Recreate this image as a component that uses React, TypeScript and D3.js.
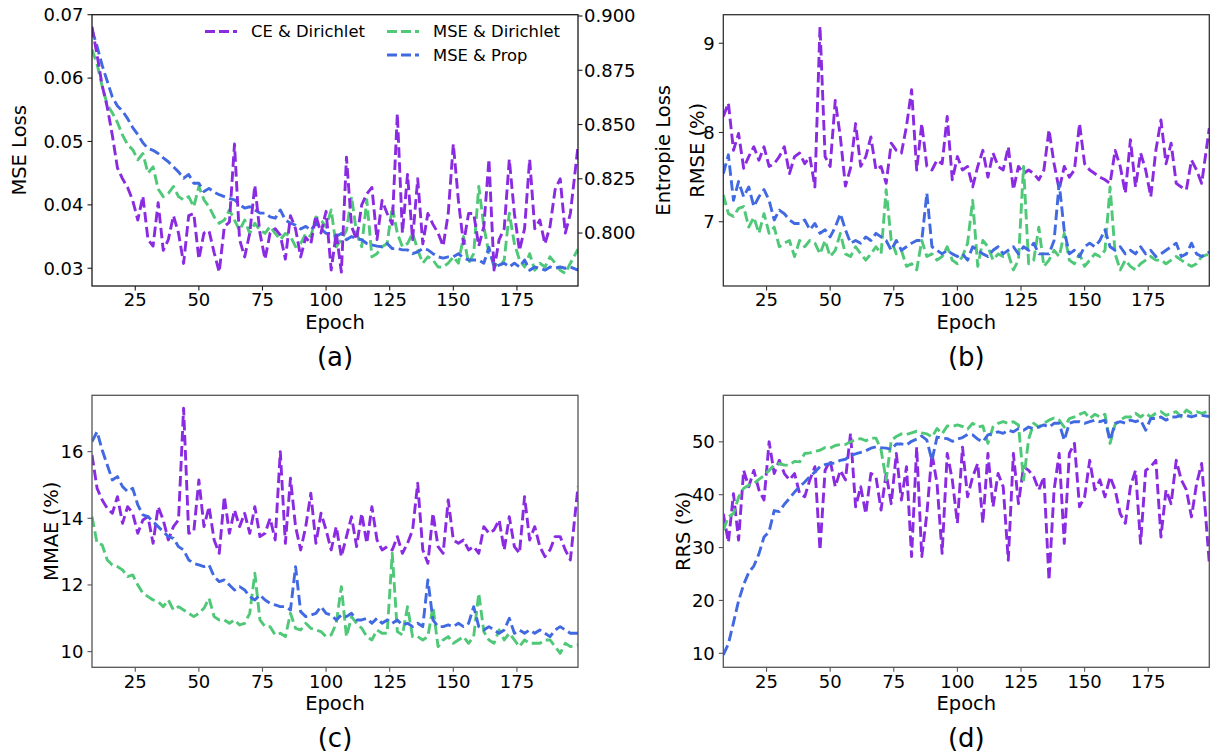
import React from "react";
import * as d3 from "d3";

// ---------- data ----------
const epochs: number[] = d3.range(8, 198, 2).concat([199]);
const xTicks = [25, 50, 75, 100, 125, 150, 175];
const seriesNames = ["CE & Dirichlet", "MSE & Dirichlet", "MSE & Prop"];
const seriesColors = ["#8a2be2", "#4fc878", "#4169e1"];

// (a) loss: CE & Dirichlet on the right (Entropie Loss) axis
const lossCeDir = [
  0.895, 0.882, 0.868, 0.858, 0.845, 0.830, 0.825, 0.821, 0.815, 0.806,
  0.817, 0.797, 0.794, 0.814, 0.792, 0.797, 0.808, 0.800, 0.786, 0.808,
  0.809, 0.788, 0.800, 0.801, 0.791, 0.782, 0.803, 0.805, 0.841, 0.797,
  0.789, 0.800, 0.822, 0.800, 0.788, 0.800, 0.802, 0.799, 0.788, 0.808,
  0.802, 0.789, 0.798, 0.795, 0.808, 0.800, 0.810, 0.783, 0.800, 0.782,
  0.835, 0.803, 0.797, 0.813, 0.818, 0.821, 0.797, 0.815, 0.809, 0.804,
  0.855, 0.800, 0.827, 0.797, 0.825, 0.795, 0.809, 0.804, 0.800, 0.794,
  0.809, 0.841, 0.815, 0.795, 0.809, 0.809, 0.794, 0.803, 0.834, 0.783,
  0.797, 0.802, 0.834, 0.809, 0.792, 0.802, 0.834, 0.802, 0.806, 0.795,
  0.803, 0.820, 0.825, 0.800, 0.809, 0.840,
];
const lossMseDir = [
  0.0645, 0.0622, 0.0587, 0.0558, 0.0545, 0.0530, 0.0510, 0.0495, 0.0487, 0.0471,
  0.0481, 0.0450, 0.0460, 0.0425, 0.0413, 0.0418, 0.0429, 0.0413, 0.0408, 0.0413,
  0.0397, 0.0429, 0.0408, 0.0397, 0.0381, 0.0371, 0.0376, 0.0392, 0.0376, 0.0360,
  0.0376, 0.0355, 0.0371, 0.0360, 0.0355, 0.0366, 0.0355, 0.0345, 0.0355, 0.0350,
  0.0334, 0.0339, 0.0355, 0.0350, 0.0381, 0.0376, 0.0365, 0.0392, 0.0334, 0.0345,
  0.0360, 0.0413, 0.0355, 0.0334, 0.0408, 0.0318, 0.0323, 0.0334, 0.0339, 0.0397,
  0.0355, 0.0334, 0.0339, 0.0355, 0.0329, 0.0308, 0.0318, 0.0313, 0.0302, 0.0302,
  0.0308, 0.0318, 0.0308, 0.0350, 0.0308, 0.0323, 0.0429, 0.0366, 0.0323, 0.0308,
  0.0302, 0.0313, 0.0387, 0.0339, 0.0313, 0.0302, 0.0323, 0.0297, 0.0308, 0.0302,
  0.0318, 0.0308, 0.0297, 0.0292, 0.0308, 0.0330,
];
const lossMseProp = [
  0.0676, 0.0650, 0.0620, 0.0595, 0.0570, 0.0556, 0.0548, 0.0536, 0.0522, 0.0511,
  0.0498, 0.0489, 0.0486, 0.0481, 0.0474, 0.0468, 0.0460, 0.0452, 0.0442, 0.0448,
  0.0434, 0.0434, 0.0421, 0.0426, 0.0420, 0.0416, 0.0413, 0.0410, 0.0408, 0.0400,
  0.0395, 0.0397, 0.0392, 0.0387, 0.0387, 0.0381, 0.0379, 0.0392, 0.0376, 0.0371,
  0.0368, 0.0362, 0.0366, 0.0360, 0.0371, 0.0362, 0.0355, 0.0355, 0.0350, 0.0355,
  0.0345, 0.0350, 0.0347, 0.0345, 0.0339, 0.0337, 0.0335, 0.0334, 0.0339, 0.0331,
  0.0331, 0.0329, 0.0329, 0.0323, 0.0326, 0.0331, 0.0329, 0.0323, 0.0318, 0.0316,
  0.0318, 0.0318, 0.0323, 0.0316, 0.0313, 0.0313, 0.0313, 0.0308, 0.0333, 0.0302,
  0.0305, 0.0308, 0.0302, 0.0308, 0.0302, 0.0313, 0.0297, 0.0302, 0.0300, 0.0297,
  0.0302, 0.0300, 0.0302, 0.0300, 0.0302, 0.0297,
];

// (b) RMSE (%)
const rmseCeDir = [
  8.18, 8.33, 7.80, 7.99, 7.60, 7.73, 7.84, 7.69, 7.84, 7.62,
  7.65, 7.73, 7.84, 7.54, 7.73, 7.77, 7.65, 7.73, 7.39, 9.19,
  7.73, 7.62, 8.36, 7.95, 7.40, 7.60, 8.10, 7.62, 7.73, 7.95,
  7.58, 7.62, 7.43, 7.88, 7.80, 7.77, 8.07, 8.48, 7.58, 8.10,
  7.62, 7.58, 7.69, 7.65, 8.18, 7.47, 7.73, 7.58, 7.62, 7.39,
  7.62, 7.80, 7.50, 7.77, 7.62, 7.58, 7.84, 7.36, 7.62, 7.54,
  7.58, 7.54, 7.47, 7.58, 8.03, 7.65, 7.36, 7.62, 7.50, 7.58,
  8.10, 7.65, 7.58, 7.54, 7.50, 7.47, 7.43, 7.80, 7.62, 7.32,
  7.92, 7.39, 7.77, 7.58, 7.28, 7.80, 8.14, 7.65, 7.88, 7.43,
  7.39, 7.36, 7.69, 7.58, 7.43, 8.05,
];
const rmseMseDir = [
  7.30, 7.09, 7.06, 7.15, 7.17, 6.94, 7.05, 6.87, 7.09, 6.87,
  6.94, 6.72, 6.76, 6.79, 6.61, 6.79, 6.72, 6.79, 6.76, 6.64,
  6.79, 6.61, 6.68, 6.87, 6.64, 6.61, 6.72, 6.64, 6.57, 6.64,
  6.72, 6.64, 7.36, 6.79, 6.64, 6.68, 6.50, 6.53, 6.46, 6.79,
  6.61, 6.64, 6.57, 6.61, 6.72, 6.57, 6.53, 6.61, 6.76, 7.24,
  6.50, 6.79, 6.72, 6.57, 6.64, 6.61, 6.64, 6.46, 6.57, 7.62,
  6.53, 6.57, 6.94, 6.50, 6.57, 6.68, 6.61, 6.87, 6.57, 6.53,
  6.64, 6.50, 6.57, 6.64, 6.61, 6.68, 7.39, 6.64, 6.46, 6.57,
  6.50, 6.46, 6.53, 6.57, 6.61, 6.57, 6.57, 6.53, 6.57, 6.61,
  6.57, 6.53, 6.50, 6.53, 6.61, 6.64,
];
const rmseMseProp = [
  7.54, 7.75, 7.24, 7.45, 7.28, 7.39, 7.17, 7.28, 7.36, 7.24,
  7.02, 7.13, 7.09, 7.02, 6.98, 6.98, 7.02, 6.91, 6.98, 6.87,
  6.91, 6.83, 6.94, 7.09, 6.91, 6.76, 6.79, 6.76, 6.83, 6.79,
  6.87, 6.83, 6.79, 6.68, 6.79, 6.68, 6.72, 6.76, 6.79, 6.79,
  7.32, 6.72, 6.68, 6.64, 6.68, 6.64, 6.61, 6.64, 6.57, 6.72,
  6.68, 6.64, 6.61, 6.68, 6.72, 6.64, 6.68, 6.72, 6.64, 6.72,
  6.68, 6.76, 6.64, 6.64, 6.64, 6.79, 7.43, 6.90, 6.64, 6.68,
  6.61, 6.72, 6.76, 6.72, 6.79, 6.91, 6.72, 6.68, 6.72, 6.64,
  6.68, 6.64, 6.72, 6.64, 6.68, 6.61, 6.64, 6.68, 6.72, 6.76,
  6.61, 6.64, 6.76, 6.64, 6.61, 6.66,
];

// (c) MMAE (%)
const mmaeCeDir = [
  15.9, 14.9, 14.55, 14.3, 14.15, 14.65, 13.85, 14.35, 14.15, 13.55,
  13.95, 14.05, 13.25, 14.35, 13.95, 13.35, 13.75, 13.95, 17.3, 13.55,
  13.6, 15.15, 13.75, 14.35, 13.35, 12.95, 14.65, 13.55, 14.25, 13.75,
  14.15, 13.55, 14.35, 13.45, 13.55, 14.0, 13.35, 16.0, 13.25, 15.2,
  13.75, 13.05, 13.75, 14.75, 13.25, 14.15, 13.65, 13.05, 13.75, 12.85,
  13.45, 14.05, 13.15, 14.15, 13.25, 14.35, 13.35, 13.05, 13.15, 13.05,
  13.45, 12.95, 13.25, 13.65, 15.05, 13.05, 12.65, 14.15, 13.15, 12.95,
  14.55, 13.35, 13.25, 13.35, 13.05, 13.15, 12.95, 13.75, 13.55, 13.65,
  13.95, 13.05, 14.05, 13.15, 12.95, 14.65, 13.35, 13.75, 13.15, 12.85,
  13.05, 13.45, 13.45, 13.05, 12.75, 14.95,
];
const mmaeMseDir = [
  14.05, 13.25, 13.2, 12.75, 12.6, 12.55, 12.45, 12.25, 12.3, 12.0,
  11.75, 11.65, 11.55, 11.5, 11.35, 11.55, 11.25, 11.35, 11.25, 11.15,
  11.05, 11.15, 11.3, 11.6, 11.05, 10.95, 10.95, 10.85, 10.95, 10.8,
  10.85, 11.15, 12.35, 10.95, 10.75, 10.75, 10.5, 10.55, 10.45, 11.15,
  10.7, 10.65, 10.85, 10.7, 10.65, 10.6, 10.45, 10.5, 10.85, 11.95,
  10.45, 11.05, 10.85, 10.7, 10.45, 10.35, 10.65, 10.55, 10.55, 12.95,
  10.6, 10.5, 11.35, 10.45, 10.45, 10.35, 10.45, 11.35, 10.15, 10.35,
  10.45, 10.25, 10.35, 10.45, 10.25, 10.45, 11.75, 10.6, 10.35, 10.25,
  10.65, 10.35, 10.55, 10.35, 10.15, 10.35, 10.25, 10.25, 10.25, 10.35,
  10.35, 10.15, 9.95, 10.25, 10.15, 10.2,
];
const mmaeMseProp = [
  16.3, 16.6, 16.05, 15.6, 15.15, 15.25, 14.95, 14.8, 14.9, 14.4,
  14.1, 14.05, 13.9, 13.75, 13.6, 13.45, 13.4, 13.15, 13.05, 12.75,
  12.65, 12.6, 12.55, 12.6, 12.25, 12.1, 12.15, 12.0, 11.85, 11.95,
  11.85, 11.65, 11.55, 11.7, 11.55, 11.45, 11.4, 11.35, 11.35, 11.25,
  12.55, 11.2, 11.05, 11.1, 11.15, 11.35, 11.15, 11.1, 10.95, 11.1,
  11.05, 11.15, 10.95, 10.95, 11.0, 10.85, 11.0, 10.85, 10.95, 10.85,
  10.95, 10.8, 10.85, 10.75, 10.85, 10.75, 12.15, 10.95, 10.75, 10.75,
  10.8, 10.75, 10.85, 10.75, 10.85, 11.35, 10.75, 10.65, 10.75, 10.65,
  10.55, 10.65, 11.0, 10.55, 10.65, 10.55, 10.65, 10.55, 10.65, 10.55,
  10.45, 10.65, 10.75, 10.65, 10.55, 10.55,
];

// (d) RRS (%)
const rrsCeDir = [
  36.4, 31.0, 40.2, 31.4, 44.6, 41.5, 44.6, 40.9, 39.0, 50.0,
  44.0, 46.5, 44.0, 42.8, 44.0, 40.2, 39.6, 42.8, 45.3, 29.5,
  44.6, 46.5, 41.5, 44.6, 42.8, 51.6, 37.7, 41.5, 36.4, 44.0,
  43.4, 37.1, 44.0, 38.3, 47.8, 39.0, 45.3, 28.3, 49.0, 28.3,
  36.4, 47.8, 42.1, 28.9, 47.8, 42.8, 34.6, 49.0, 39.6, 43.4,
  45.9, 34.6, 47.8, 37.7, 44.0, 41.5, 27.6, 47.8, 38.3, 45.3,
  44.6, 43.4, 40.9, 43.4, 23.8, 40.9, 47.8, 30.8, 47.8, 49.7,
  37.7, 39.6, 46.5, 40.9, 42.8, 39.6, 43.4, 40.9, 36.4, 34.6,
  41.5, 44.6, 30.8, 44.6, 45.3, 46.5, 32.0, 40.9, 38.3, 46.5,
  42.8, 40.9, 35.8, 42.1, 45.9, 27.0,
];
const rrsMseDir = [
  33.3, 35.8, 36.45, 39.5, 41.2, 41.8, 42.1, 42.9, 43.6, 44.6,
  45.6, 45.9, 45.6, 45.6, 46.3, 46.2, 47.8, 47.9, 48.2, 48.4,
  48.9, 48.8, 49.3, 49.5, 49.5, 50.0, 50.4, 50.6, 50.2, 50.7,
  50.7, 48.5, 42.75, 50.3, 51.0, 51.5, 51.4, 51.7, 52.0, 51.7,
  51.5, 50.9, 52.5, 51.5, 53.0, 52.9, 53.2, 52.9, 52.4, 53.5,
  52.8, 53.0, 49.7, 52.8, 53.5, 53.8, 53.5, 53.8, 53.2, 42.75,
  50.5, 53.5, 52.8, 53.5, 54.1, 54.5, 54.1, 52.8, 54.4, 54.7,
  55.2, 55.6, 54.4, 55.2, 54.7, 55.2, 49.7, 53.3, 54.1, 54.7,
  54.7, 55.4, 54.7, 55.4, 54.7, 55.4, 55.7, 55.0, 55.4, 55.7,
  54.7, 56.0, 55.4, 55.7, 55.4, 55.8,
];
const rrsMseProp = [
  9.7, 11.8, 15.8, 19.9, 23.0, 25.3, 26.5, 28.8, 32.0, 33.0,
  37.0, 36.8, 38.2, 39.3, 40.5, 41.5, 42.4, 43.4, 44.3, 45.3,
  45.7, 45.9, 46.0, 46.5, 46.7, 47.4, 47.7, 48.0, 48.3, 48.8,
  49.05, 48.9, 48.8, 48.6, 49.6, 49.6, 49.4, 50.1, 50.5, 51.1,
  50.3, 46.5, 50.9, 50.7, 50.6, 50.1, 50.5, 50.8, 51.4, 51.3,
  50.5, 50.0, 51.3, 51.6, 51.9, 51.6, 52.2, 51.9, 52.5, 52.2,
  52.8, 52.5, 52.8, 53.2, 52.8, 53.5, 53.5, 50.3, 53.5, 53.8,
  53.8, 53.5, 53.8, 54.1, 53.8, 54.1, 50.3, 53.5, 53.8, 53.5,
  54.1, 53.8, 54.1, 52.2, 54.4, 54.4, 54.7, 54.1, 54.7, 54.7,
  55.0, 55.0, 54.7, 55.0, 55.0, 54.8,
];

const lossTicksLeft = [0.03, 0.04, 0.05, 0.06, 0.07];
const lossTicksRight = [0.8, 0.825, 0.85, 0.875, 0.9];
const rmseTicks = [7, 8, 9];
const mmaeTicks = [10, 12, 14, 16];
const rrsTicks = [10, 20, 30, 40, 50];

// ---------- drawing ----------
const FONT = "DejaVu Sans, Verdana, sans-serif";
const TICK_FS = 18;
const LABEL_FS = 19.5;
const CAP_FS = 26;
const DASH = "10.5,4.5";
const LW = 2.9;

type Series = { values: number[]; color: string; right?: boolean };

type PanelProps = {
  id: string;
  left: number;
  top: number;
  right: number;
  bottom: number;
  yDomain: [number, number];
  yTicks: number[];
  yFmt: (v: number) => string;
  yLabel: string;
  yLabelX: number;
  y2Domain?: [number, number];
  y2Ticks?: number[];
  y2Fmt?: (v: number) => string;
  y2Label?: string;
  y2LabelX?: number;
  caption: string;
  series: Series[];
  frameColor: string;
};

function Panel(p: PanelProps) {
  const x = d3.scaleLinear().domain([8, 199]).range([p.left, p.right]);
  const y = d3.scaleLinear().domain(p.yDomain).range([p.bottom, p.top]);
  const y2 = p.y2Domain
    ? d3.scaleLinear().domain(p.y2Domain).range([p.bottom, p.top])
    : null;
  const cx = (p.left + p.right) / 2;
  const cy = (p.top + p.bottom) / 2;
  const clipId = "clip-" + p.id;
  return (
    <g>
      <defs>
        <clipPath id={clipId}>
          <rect x={p.left} y={p.top} width={p.right - p.left} height={p.bottom - p.top} />
        </clipPath>
      </defs>
      <g clipPath={`url(#${clipId})`}>
        {p.series.map((s, i) => {
          const ys = s.right && y2 ? y2 : y;
          const line = d3
            .line<number>()
            .x((_, j) => x(epochs[j]))
            .y((v) => ys(v));
          return (
            <path
              key={i}
              d={line(s.values) || ""}
              fill="none"
              stroke={s.color}
              strokeWidth={LW}
              strokeDasharray={DASH}
              strokeLinejoin="round"
            />
          );
        })}
      </g>
      <rect
        x={p.left}
        y={p.top}
        width={p.right - p.left}
        height={p.bottom - p.top}
        fill="none"
        stroke={p.frameColor}
        strokeWidth={1.3}
      />
      {xTicks.map((t) => (
        <g key={"x" + t}>
          <line x1={x(t)} x2={x(t)} y1={p.bottom} y2={p.bottom + 4.5} stroke={p.frameColor} strokeWidth={1.1} />
          <text x={x(t)} y={p.bottom + 14} dy="0.35em" textAnchor="middle" fontSize={TICK_FS} fontFamily={FONT} fill="#000">
            {t}
          </text>
        </g>
      ))}
      {p.yTicks.map((t) => (
        <g key={"y" + t}>
          <line x1={p.left - 4.5} x2={p.left} y1={y(t)} y2={y(t)} stroke={p.frameColor} strokeWidth={1.1} />
          <text x={p.left - 8.5} y={y(t)} dy="0.35em" textAnchor="end" fontSize={TICK_FS} fontFamily={FONT} fill="#000">
            {p.yFmt(t)}
          </text>
        </g>
      ))}
      {y2 &&
        p.y2Ticks &&
        p.y2Ticks.map((t) => (
          <g key={"y2" + t}>
            <line x1={p.right} x2={p.right + 4.5} y1={y2(t)} y2={y2(t)} stroke={p.frameColor} strokeWidth={1.1} />
            <text x={p.right + 6} y={y2(t)} dy="0.35em" textAnchor="start" fontSize={TICK_FS} fontFamily={FONT} fill="#000">
              {p.y2Fmt ? p.y2Fmt(t) : String(t)}
            </text>
          </g>
        ))}
      <text
        transform={`translate(${p.yLabelX},${cy}) rotate(-90)`}
        dy="0.35em"
        textAnchor="middle"
        fontSize={LABEL_FS}
        fontFamily={FONT}
        fill="#000"
      >
        {p.yLabel}
      </text>
      {p.y2Label && (
        <text
          transform={`translate(${p.y2LabelX},${cy}) rotate(-90)`}
          dy="0.35em"
          textAnchor="middle"
          fontSize={LABEL_FS}
          fontFamily={FONT}
          fill="#000"
        >
          {p.y2Label}
        </text>
      )}
      <text x={cx} y={p.bottom + 36} dy="0.35em" textAnchor="middle" fontSize={LABEL_FS} fontFamily={FONT} fill="#000">
        Epoch
      </text>
      <text x={cx} y={p.bottom + 71} dy="0.35em" textAnchor="middle" fontSize={CAP_FS} fontFamily={FONT} fill="#000">
        {p.caption}
      </text>
    </g>
  );
}

function LegendItem({ x, y, color, label }: { x: number; y: number; color: string; label: string }) {
  return (
    <g>
      <line x1={x} x2={x + 32} y1={y} y2={y} stroke={color} strokeWidth={LW} strokeDasharray="10,4" />
      <text x={x + 46} y={y} dy="0.35em" fontSize={16.4} fontFamily={FONT} fill="#000">
        {label}
      </text>
    </g>
  );
}

export default function App() {
  const fmt2 = (v: number) => v.toFixed(2);
  const fmt3 = (v: number) => v.toFixed(3);
  const fmt0 = (v: number) => String(v);
  const A = { left: 92, right: 578, top: 14.7, bottom: 286 };
  const B = { left: 723.3, right: 1209.3, top: 14.7, bottom: 286 };
  const C = { left: 92, right: 578, top: 395.3, bottom: 667.3 };
  const D = { left: 723.3, right: 1209.3, top: 395.3, bottom: 667.3 };
  return (
    <svg
      width={1210}
      height={756}
      style={{ position: "absolute", left: 0, top: 0, background: "#fff" }}
    >
      <rect x={0} y={0} width={1210} height={756} fill="#fff" />
      <Panel
        id="a"
        {...A}
        yDomain={[0.0272, 0.07]}
        yTicks={lossTicksLeft}
        yFmt={fmt2}
        yLabel="MSE Loss"
        yLabelX={19}
        y2Domain={[0.7756, 0.9006]}
        y2Ticks={lossTicksRight}
        y2Fmt={fmt3}
        y2Label="Entropie Loss"
        y2LabelX={663}
        caption="(a)"
        frameColor="#1a1a1a"
        series={[
          { values: lossMseDir, color: seriesColors[1] },
          { values: lossMseProp, color: seriesColors[2] },
          { values: lossCeDir, color: seriesColors[0], right: true },
        ]}
      />
      <Panel
        id="b"
        {...B}
        yDomain={[6.28, 9.32]}
        yTicks={rmseTicks}
        yFmt={fmt0}
        yLabel="RMSE (%)"
        yLabelX={697}
        caption="(b)"
        frameColor="#333"
        series={[
          { values: rmseCeDir, color: seriesColors[0] },
          { values: rmseMseDir, color: seriesColors[1] },
          { values: rmseMseProp, color: seriesColors[2] },
        ]}
      />
      <Panel
        id="c"
        {...C}
        yDomain={[9.53, 17.69]}
        yTicks={mmaeTicks}
        yFmt={fmt0}
        yLabel="MMAE (%)"
        yLabelX={51}
        caption="(c)"
        frameColor="#555"
        series={[
          { values: mmaeCeDir, color: seriesColors[0] },
          { values: mmaeMseDir, color: seriesColors[1] },
          { values: mmaeMseProp, color: seriesColors[2] },
        ]}
      />
      <Panel
        id="d"
        {...D}
        yDomain={[7.35, 58.8]}
        yTicks={rrsTicks}
        yFmt={fmt0}
        yLabel="RRS (%)"
        yLabelX={683}
        caption="(d)"
        frameColor="#555"
        series={[
          { values: rrsCeDir, color: seriesColors[0] },
          { values: rrsMseDir, color: seriesColors[1] },
          { values: rrsMseProp, color: seriesColors[2] },
        ]}
      />
      <LegendItem x={205} y={31.5} color={seriesColors[0]} label={seriesNames[0]} />
      <LegendItem x={387} y={31.5} color={seriesColors[1]} label={seriesNames[1]} />
      <LegendItem x={387} y={55} color={seriesColors[2]} label={seriesNames[2]} />
    </svg>
  );
}
